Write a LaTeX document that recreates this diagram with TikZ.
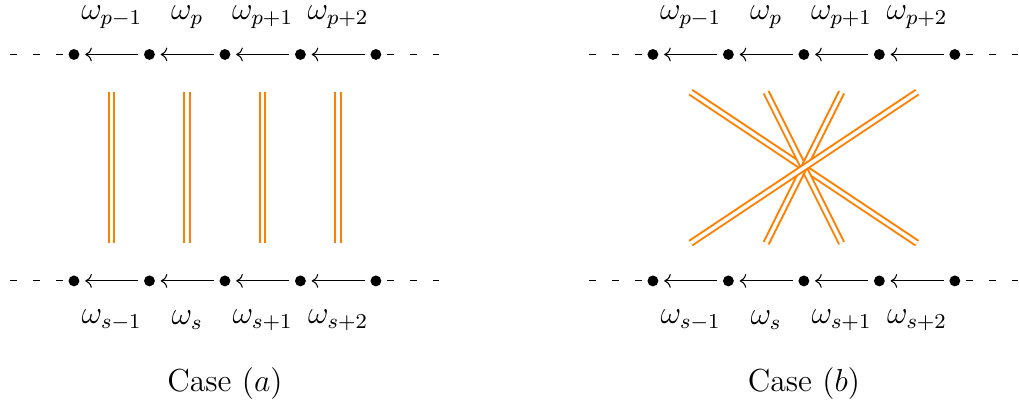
\documentclass[tikz,border=0pt]{standalone}
\usepackage{tikz}
\usetikzlibrary{arrows.meta}

\begin{document}
\begin{tikzpicture}[
  dot/.style={circle, fill, inner sep=0pt, minimum size=4.1pt},
  lbl/.style={font=\large, inner sep=1pt},
  link/.style={->, shorten >=2pt, shorten <=2pt},
  tail/.style={dash pattern=on 2.5pt off 6.1pt, dash phase=6.6pt},
  pair/.style={draw=orange, double=white, double distance=1.3pt, line width=0.75pt}]
\useasboundingbox (-0.98,0.7216) rectangle (12.52,-4.6434);
\foreach \cs/\x in {a/0, b/7.67} {
  \foreach \row/\y/\d in {p/0/0.49, s/-3/-0.52} {
    \foreach \n in {0,...,4}
      \node[dot] (\row\cs\n) at (\x+\n,\y) {};
    \coordinate (\row\cs l) at (\x-0.85,\y);
    \coordinate (\row\cs r) at (\x+4.85,\y);
    \draw[tail] (\row\cs0) -- (\row\cs l);
    \draw[tail] (\row\cs4) -- (\row\cs r);
    \foreach \n/\m/\sub in {0/1/{-1}, 1/2/{}, 2/3/{+1}, 3/4/{+2}} {
      \draw[link] (\row\cs\m) -- (\row\cs\n);
      \node[lbl] (w\row\cs\n) at (\x+\n+0.5,\y+\d) {$\omega_{\row\sub}$};
    }
  }
  \foreach \n in {0,...,3} {
    \coordinate (u\cs\n) at (\x+\n+0.5,-0.5);
    \coordinate (d\cs\n) at (\x+\n+0.5,-2.5);
  }
  \node[lbl] (case\cs) at (\x+2,-4.36) {Case $(\cs)$};
}
\foreach \n in {0,...,3}
  \draw[pair] (ua\n) -- (da\n);
\foreach \n/\m in {0/3, 1/2, 2/1, 3/0}
  \draw[pair] (ub\n) -- (db\m);
\end{tikzpicture}
\end{document}
